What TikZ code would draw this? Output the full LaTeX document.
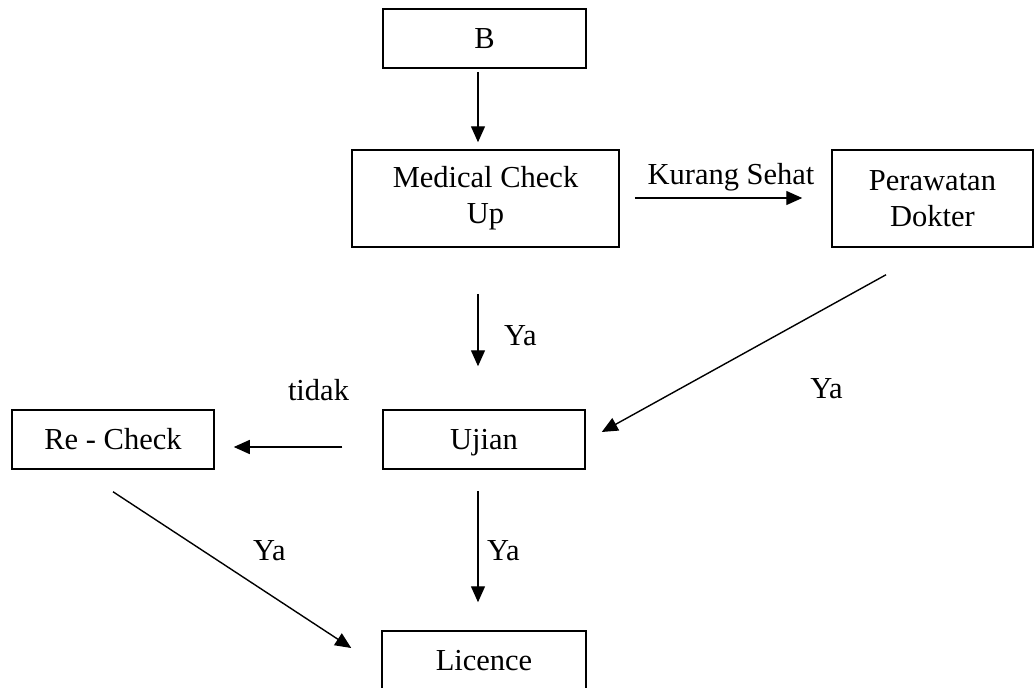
\documentclass[tikz,border=0pt]{standalone}
\usepackage{fontspec}
\setmainfont{Liberation Serif}
\usetikzlibrary{arrows.meta}
\begin{document}
\begin{tikzpicture}[x=1pt,y=-1pt,
  box/.style={draw,line width=1.5pt,inner sep=0pt,align=center,font=\fontsize{30.5}{36}\selectfont},
  one/.style={text height=24pt,text depth=4pt},
  lbl/.style={anchor=base,inner sep=0pt,font=\fontsize{30.5}{36}\selectfont},
  arr/.style={line width=1.4pt,-{Triangle[length=16pt,width=14pt]}}]
\useasboundingbox (0,0) rectangle (1034,688);
\node[box,one,minimum width=203pt,minimum height=59pt] (b) at (484.5,38.5) {B};
\node[box,minimum width=267pt,minimum height=97pt] (med) at (485.5,198.5) {Medical Check\\Up};
\node[box,minimum width=201pt,minimum height=97pt] (per) at (932.5,198.5) {Perawatan\\Dokter};
\node[box,one,minimum width=202pt,minimum height=59pt] (re) at (113,439.5) {Re - Check};
\node[box,one,minimum width=202pt,minimum height=59pt] (uj) at (484,439.5) {Ujian};
\node[box,one,minimum width=204pt,minimum height=59pt] (lic) at (484,660.5) {Licence};

\draw[arr] ([xshift=-6.5pt,yshift=-3pt]b.south) -- ([xshift=-7.5pt,yshift=7pt]med.north);
\draw[arr] ([xshift=15pt,yshift=0.5pt]med.east) -- ([xshift=-29pt,yshift=0.5pt]per.west);
\draw[arr] ([xshift=-7.5pt,yshift=-46pt]med.south) -- ([xshift=-6pt,yshift=43pt]uj.north);
\draw[arr] ([xshift=-46.5pt,yshift=-27pt]per.south) -- ([xshift=16pt,yshift=7.5pt]uj.east);
\draw[arr] ([xshift=-40pt,yshift=-7.5pt]uj.west) -- ([xshift=19pt,yshift=-7.5pt]re.east);
\draw[arr] ([xshift=-6pt,yshift=-21pt]uj.south) -- ([xshift=-6pt,yshift=28pt]lic.north);
\draw[arr] ([yshift=-22pt]re.south) -- ([xshift=-30pt,yshift=12.5pt]lic.west);

\node[lbl] (l1) at (731,184) {Kurang Sehat};
\node[lbl] (l2) at (520.5,345) {Ya};
\node[lbl] (l3) at (826.5,398) {Ya};
\node[lbl] (l4) at (318.5,400) {tidak};
\node[lbl] (l5) at (269.5,560) {Ya};
\node[lbl] (l6) at (503.5,560) {Ya};
\end{tikzpicture}
\end{document}
